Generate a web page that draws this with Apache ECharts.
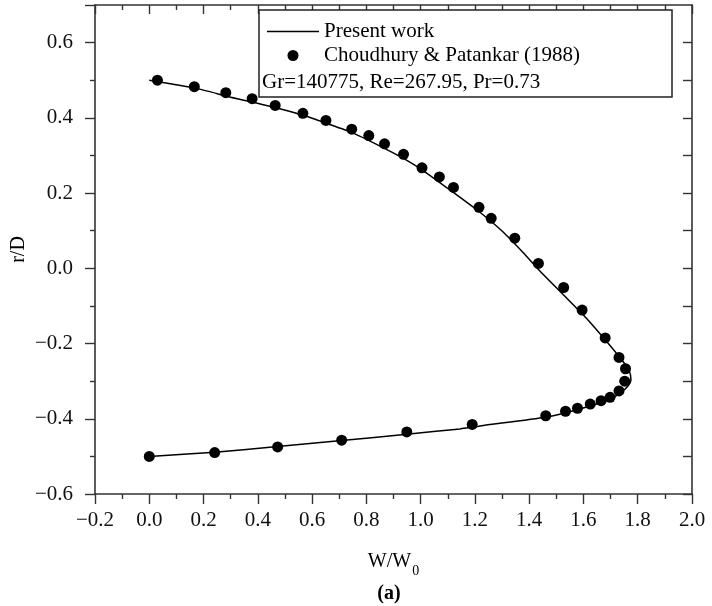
<!DOCTYPE html>
<html>
<head>
<meta charset="utf-8">
<script src="https://cdn.jsdelivr.net/npm/echarts@6/dist/echarts.min.js"></script>
<style>
html,body{margin:0;padding:0;background:#fff;}
#c{width:712px;height:606px;}
</style>
</head>
<body>
<div id="c"></div>
<script>
// ---- data ----
var lineName = 'Present work';
var pointName = 'Choudhury & Patankar (1988)';
var lineX = [0.000,0.170,0.300,0.460,0.570,0.650,0.750,0.850,0.930,1.005,1.120,1.215,1.300,1.380,1.434,1.527,1.610,1.680,1.745,1.770,1.775,1.765,1.735,1.698,1.625,1.534,1.461,1.219,1.145,0.949,0.709,0.473,0.241,0.000];
var lineY = [0.500,0.479,0.455,0.428,0.406,0.386,0.360,0.325,0.295,0.262,0.202,0.151,0.099,0.040,-0.003,-0.071,-0.132,-0.190,-0.247,-0.275,-0.297,-0.312,-0.332,-0.348,-0.366,-0.384,-0.396,-0.419,-0.427,-0.441,-0.458,-0.474,-0.489,-0.500];
var ptX = [0.030,0.166,0.282,0.379,0.464,0.566,0.651,0.746,0.809,0.867,0.937,1.005,1.069,1.121,1.215,1.260,1.347,1.434,1.527,1.595,1.680,1.731,1.755,1.752,1.731,1.698,1.665,1.625,1.578,1.534,1.461,1.190,0.949,0.709,0.473,0.241,0.000];
var ptY = [0.500,0.483,0.467,0.451,0.433,0.412,0.393,0.370,0.353,0.331,0.303,0.267,0.243,0.215,0.162,0.133,0.080,0.013,-0.051,-0.111,-0.185,-0.237,-0.267,-0.300,-0.326,-0.343,-0.352,-0.361,-0.372,-0.380,-0.392,-0.415,-0.435,-0.457,-0.475,-0.490,-0.500];
var xTicks = [-0.2,0.0,0.2,0.4,0.6,0.8,1.0,1.2,1.4,1.6,1.8,2.0];
var xMinor = [-0.1,0.1,0.3,0.5,0.7,0.9,1.1,1.3,1.5,1.7,1.9];
var yTicks = [-0.6,-0.4,-0.2,0.0,0.2,0.4,0.6];
var yMinor = [-0.5,-0.3,-0.1,0.1,0.3,0.5];
var xName = 'W/W';
var xNameSub = '0';
var yName = 'r/D';
var infoText = 'Gr=140775, Re=267.95, Pr=0.73';
var panelLabel = '(a)';

var FONT = '"Liberation Serif", "Times New Roman", serif';
var AX = '#333';
function fmt(v){ return v.toFixed(1).replace('-', '\u2212'); }
function pairs(xs, ys){ return xs.map(function(x,i){ return [x, ys[i]]; }); }

var base = {min:-0.2, max:2.0};
var ybase = {min:-0.6, max:0.7};
var axisLine = {show:true, onZero:false, lineStyle:{color:AX, width:1.6}};
var noLine = {show:false, onZero:false};

var chart = echarts.init(document.getElementById('c'), null, {renderer:'canvas'});
chart.setOption({
  animation:false,
  backgroundColor:'#fff',
  grid:{left:95, right:20, top:5, bottom:112, containLabel:false, outerBoundsMode:'none'},
  legend:{
    orient:'vertical', left:262, top:16, itemWidth:52, itemHeight:11, itemGap:3,
    textStyle:{fontFamily:FONT, fontSize:21, color:'#000'},
    data:[{name:lineName, icon:'path://M0,0L52,0L52,1.4L0,1.4Z'},{name:pointName, icon:'circle'}]
  },
  xAxis:[
    {type:'value', position:'bottom', min:base.min, max:base.max, interval:0.2,
     axisLine:axisLine, splitLine:{show:false},
     axisTick:{show:true, inside:false, length:10, customValues:xTicks, lineStyle:{color:AX, width:1.4}},
     axisLabel:{show:true, customValues:xTicks, formatter:fmt, margin:16, fontFamily:FONT, fontSize:21, color:'#111'},
     name:'{n|'+xName+'}{s|'+xNameSub+'}', nameLocation:'middle', nameGap:58, nameMoveOverlap:false,
     nameTextStyle:{rich:{n:{fontFamily:FONT, fontSize:20, color:'#000', lineHeight:22, verticalAlign:'top'}, s:{fontFamily:FONT, fontSize:14, color:'#000', lineHeight:14, verticalAlign:'bottom', padding:[0,0,-4,1]}}}
    },
    {type:'value', position:'bottom', min:base.min, max:base.max, interval:0.2,
     axisLine:noLine, splitLine:{show:false}, axisLabel:{show:false},
     axisTick:{show:true, inside:false, length:5, customValues:xMinor, lineStyle:{color:AX, width:1.4}}
    },
    {type:'value', position:'top', min:base.min, max:base.max, interval:0.2,
     axisLine:axisLine, splitLine:{show:false}, axisLabel:{show:false},
     axisTick:{show:true, inside:true, length:9, customValues:xTicks, lineStyle:{color:AX, width:1.4}}
    },
    {type:'value', position:'top', min:base.min, max:base.max, interval:0.2,
     axisLine:noLine, splitLine:{show:false}, axisLabel:{show:false},
     axisTick:{show:true, inside:true, length:5, customValues:xMinor, lineStyle:{color:AX, width:1.4}}
    }
  ],
  yAxis:[
    {type:'value', position:'left', min:ybase.min, max:ybase.max, interval:0.1,
     axisLine:axisLine, splitLine:{show:false},
     axisTick:{show:true, inside:false, length:10, customValues:yTicks.concat([0.7]), lineStyle:{color:AX, width:1.4}},
     axisLabel:{show:true, customValues:yTicks, formatter:fmt, margin:22, fontFamily:FONT, fontSize:21, color:'#111'},
     name:yName, nameLocation:'middle', nameRotate:90, nameGap:66, nameMoveOverlap:false,
     nameTextStyle:{fontFamily:FONT, fontSize:20, color:'#000'}
    },
    {type:'value', position:'left', min:ybase.min, max:ybase.max, interval:0.1,
     axisLine:noLine, splitLine:{show:false}, axisLabel:{show:false},
     axisTick:{show:true, inside:false, length:5, customValues:yMinor, lineStyle:{color:AX, width:1.4}}
    },
    {type:'value', position:'right', min:ybase.min, max:ybase.max, interval:0.1,
     axisLine:axisLine, splitLine:{show:false}, axisLabel:{show:false},
     axisTick:{show:true, inside:true, length:9, customValues:yTicks.concat(yMinor), lineStyle:{color:AX, width:1.4}}
    }
  ],
  graphic:[
    {type:'rect', shape:{x:259, y:10, width:413, height:87}, style:{fill:'#fff', stroke:'#222', lineWidth:1.5}, z:1},
    {type:'text', x:262, y:82, style:{text:infoText, fontFamily:FONT, fontSize:21, fill:'#000', textVerticalAlign:'middle', textAlign:'left'}, z:2},
    {type:'text', x:389, y:594, style:{text:panelLabel, fontFamily:FONT, fontSize:20, fontWeight:'bold', fill:'#000', textVerticalAlign:'middle', textAlign:'center'}, z:2}
  ],
  series:[
    {name:lineName, type:'line', xAxisIndex:0, yAxisIndex:0, data:pairs(lineX, lineY), showSymbol:false, symbol:'none', smooth:0.2,
     lineStyle:{color:'#000', width:1.5}, itemStyle:{color:'#000'}, z:3},
    {name:pointName, type:'scatter', xAxisIndex:0, yAxisIndex:0, data:pairs(ptX, ptY), symbol:'circle', symbolSize:11,
     itemStyle:{color:'#000', opacity:1}, z:4}
  ]
});
</script>
</body>
</html>
